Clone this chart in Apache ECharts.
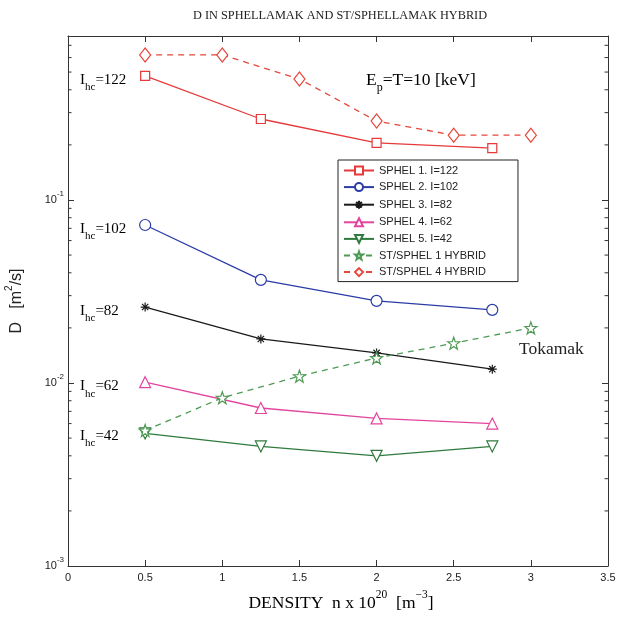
<!DOCTYPE html>
<html>
<head>
<meta charset="utf-8">
<script src="https://cdn.jsdelivr.net/npm/echarts@6/dist/echarts.min.js"></script>
<style>
html,body{margin:0;padding:0;background:#fff;}
#chart{width:629px;height:624px;}
</style>
</head>
<body>
<div id="chart"></div>
<script>
// ---- data ----
var densitySphel = [0.5, 1.25, 2.0, 2.75];
var densityHybrid = [0.5, 1.0, 1.5, 2.0, 2.5, 3.0];
var sphel1 = [0.477, 0.277, 0.205, 0.192];
var sphel2 = [0.073, 0.0366, 0.0281, 0.0251];
var sphel3 = [0.026, 0.0174, 0.0146, 0.0119];
var sphel4 = [0.0101, 0.0073, 0.0064, 0.0060];
var sphel5 = [0.0053, 0.0045, 0.0040, 0.0045];
var hybrid1 = [0.0055, 0.0083, 0.0109, 0.0137, 0.0165, 0.020];
var hybrid4 = [0.62, 0.62, 0.458, 0.27, 0.226, 0.226];
var seriesNames = ['SPHEL 1. I=122', 'SPHEL 2. I=102', 'SPHEL 3. I=82', 'SPHEL 4. I=62', 'SPHEL 5. I=42', 'ST/SPHEL 1 HYBRID', 'ST/SPHEL 4 HYBRID'];
var xTicks = [0, 0.5, 1, 1.5, 2, 2.5, 3, 3.5];
var yMajorTicks = [0.001, 0.01, 0.1];
var yMin = 0.001, yMax = 0.787;
var curveLabels = [
  {text: '=122', level: 0.477},
  {text: '=102', level: 0.073},
  {text: '=82', level: 0.026},
  {text: '=62', level: 0.0101},
  {text: '=42', level: 0.0054}
];

function zip(xs, ys) { return xs.map(function (x, i) { return [x, ys[i]]; }); }

var SERIF = '"Liberation Serif", "DejaVu Serif", serif';
var SANS = '"Liberation Sans", Arial, sans-serif';

var starPath = 'path://M0,-10 L2.35,-3.24 L9.51,-3.09 L3.8,1.24 L5.88,8.09 L0,4 L-5.88,8.09 L-3.8,1.24 L-9.51,-3.09 L-2.35,-3.24 Z';
var asteriskPath = 'path://M0,-10 L0,10 M-10,0 L10,0 M-7,-7 L7,7 M-7,7 L7,-7';

function mk(name, xs, ys, color, symbol, size, dashed, rotate, fill) {
  return {
    name: name, type: 'line', data: zip(xs, ys),
    symbol: symbol, symbolSize: size, symbolRotate: rotate || 0,
    showAllSymbol: true,
    lineStyle: {color: color, width: 1.3, type: dashed ? [6, 5] : 'solid'},
    itemStyle: {color: fill || '#fff', borderColor: color, borderWidth: 1.2},
    emphasis: {disabled: true},
    z: 3
  };
}

var chart = echarts.init(document.getElementById('chart'));
var gridL = 68, gridR = 21, gridT = 36, gridB = 58;
var axisLineStyle = {show: true, onZero: false, lineStyle: {color: '#333'}};
var tickStyle = {show: true, inside: true, length: 6, lineStyle: {color: '#333'}};

var option = {
  backgroundColor: '#fff',
  animation: false,
  grid: {left: gridL, right: gridR, top: gridT, bottom: gridB, containLabel: false, outerBoundsMode: 'none'},
  legend: {
    orient: 'vertical', left: 338, top: 160,
    data: seriesNames,
    itemWidth: 30, itemHeight: 10, itemGap: 5.6,
    padding: [5, 32, 4, 5],
    borderColor: '#222', borderWidth: 1, backgroundColor: '#fff',
    textStyle: {fontFamily: SANS, fontSize: 11, color: '#222'}
  },
  xAxis: [{
    type: 'value', min: 0, max: 3.5, interval: 0.5,
    axisLine: axisLineStyle, axisTick: tickStyle,
    axisLabel: {fontFamily: SANS, fontSize: 11, color: '#222', margin: 6,
      formatter: function (v) { return String(+v.toFixed(1)); }},
    splitLine: {show: false}
  }, {
    type: 'value', min: 0, max: 3.5, interval: 0.5, position: 'top',
    axisLine: axisLineStyle, axisTick: tickStyle,
    axisLabel: {show: false}, splitLine: {show: false}
  }],
  yAxis: [{
    type: 'log', logBase: 10, min: yMin, max: yMax,
    axisLine: axisLineStyle, axisTick: tickStyle,
    axisLabel: {
      margin: 4,
      formatter: function (v) {
        var e = Math.log10(v);
        if (Math.abs(e - Math.round(e)) > 1e-6) return '';
        return '{b|10}{s|' + Math.round(e) + '}';
      },
      rich: {
        b: {fontFamily: SANS, fontSize: 11, color: '#222', lineHeight: 20, verticalAlign: 'middle'},
        s: {fontFamily: SANS, fontSize: 8, color: '#222', lineHeight: 8, verticalAlign: 'top'}
      }
    },
    splitLine: {show: false},
    name: '{a|D   [m}{p|2}{a|/s]}', nameLocation: 'middle', nameGap: 38, nameRotate: 90,
    nameTextStyle: {rich: {
      a: {fontFamily: SANS, fontSize: 16, color: '#222', lineHeight: 26, verticalAlign: 'middle'},
      p: {fontFamily: SANS, fontSize: 10, color: '#222', lineHeight: 10, verticalAlign: 'top'}
    }}
  }, {
    type: 'log', logBase: 10, min: yMin, max: yMax, position: 'right',
    axisLine: axisLineStyle, axisTick: tickStyle,
    axisLabel: {show: false}, splitLine: {show: false}
  }],
  series: [
    mk(seriesNames[0], densitySphel, sphel1, '#e5393a', 'rect', 9),
    mk(seriesNames[1], densitySphel, sphel2, '#2b3ca6', 'circle', 11),
    mk(seriesNames[2], densitySphel, sphel3, '#1a1a1a', asteriskPath, 9, false, 0, 'none'),
    mk(seriesNames[3], densitySphel, sphel4, '#e2459e', 'triangle', 11),
    mk(seriesNames[4], densitySphel, sphel5, '#2f7a3c', 'triangle', 11, false, 180),
    mk(seriesNames[5], densityHybrid, hybrid1, '#4f9a55', starPath, 12, true),
    mk(seriesNames[6], densityHybrid, hybrid4, '#e6473c', 'diamond', [11, 14], true)
  ]
};
chart.setOption(option);

// ---- minor ticks, annotations (positioned with the chart's scales) ----
var g = [];
var xL = chart.convertToPixel({xAxisIndex: 0}, 0);
var xR = chart.convertToPixel({xAxisIndex: 0}, 3.5);
yMajorTicks.forEach(function (d) {
  for (var k = 2; k <= 9; k++) {
    var v = d * k;
    if (v >= yMax) break;
    var py = chart.convertToPixel({yAxisIndex: 0}, v);
    g.push({type: 'line', shape: {x1: xL, y1: py, x2: xL + 3.5, y2: py}, style: {stroke: '#333', lineWidth: 1}});
    g.push({type: 'line', shape: {x1: xR, y1: py, x2: xR - 3.5, y2: py}, style: {stroke: '#333', lineWidth: 1}});
  }
});

var labelRich = {
  a: {fontFamily: SERIF, fontSize: 15, color: '#222', lineHeight: 26, verticalAlign: 'middle'},
  s: {fontFamily: SERIF, fontSize: 11, color: '#222', lineHeight: 11, verticalAlign: 'bottom'}
};
var bigRich = {
  a: {fontFamily: SERIF, fontSize: 17.5, color: '#222', lineHeight: 28, verticalAlign: 'middle'},
  s: {fontFamily: SERIF, fontSize: 12, color: '#222', lineHeight: 12, verticalAlign: 'bottom'},
  p: {fontFamily: SERIF, fontSize: 11.5, color: '#222', lineHeight: 11, verticalAlign: 'top'}
};
curveLabels.forEach(function (c) {
  var py = chart.convertToPixel({yAxisIndex: 0}, c.level);
  g.push({type: 'text', x: 80, y: py + 4, style: {
    text: '{a|I}{s|hc}{a|' + c.text + '}', rich: labelRich, verticalAlign: 'middle', align: 'left'}});
});
g.push({type: 'text', x: 366, y: 80, style: {text: '{a|E}{s|p}{a|=T=10 [keV]}', rich: bigRich, verticalAlign: 'middle', align: 'left'}});
g.push({type: 'text', x: 519, y: 349, style: {text: 'Tokamak', fontFamily: SERIF, fontSize: 17.5, fill: '#222', verticalAlign: 'middle', align: 'left'}});
g.push({type: 'text', x: 340, y: 16, style: {text: 'D IN SPHELLAMAK AND ST/SPHELLAMAK HYBRID', fontFamily: SERIF, fontSize: 12.3, fill: '#222', verticalAlign: 'middle', align: 'center'}});
g.push({type: 'text', x: 341, y: 603, style: {
  text: '{a|DENSITY  n x 10}{p|20}{a|  [m}{p|\u22123}{a|]}', rich: bigRich, verticalAlign: 'middle', align: 'center'}});
chart.setOption({graphic: g});
</script>
</body>
</html>
